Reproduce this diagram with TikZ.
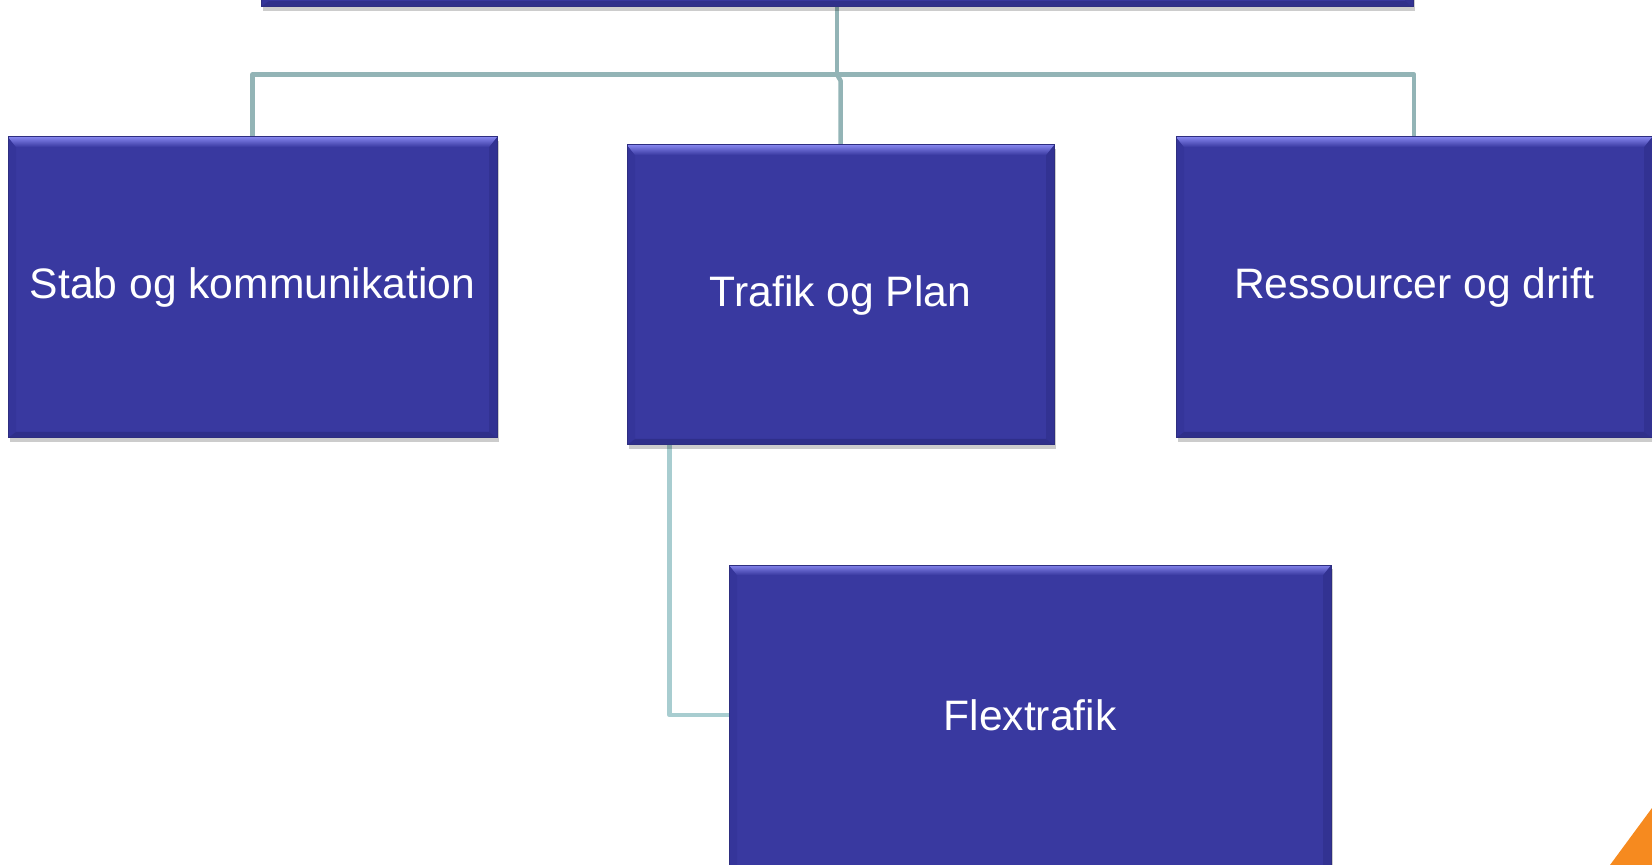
\documentclass[tikz,border=0pt]{standalone}
\usepackage{fontspec}
\setmainfont{Liberation Sans}
\usetikzlibrary{calc,backgrounds,shadows}
\definecolor{boxfill}{HTML}{3939A0}
\definecolor{boxedge}{HTML}{2E2E80}
\definecolor{bevtop}{HTML}{8484EC}
\definecolor{bevleft}{HTML}{35359A}
\definecolor{bevright}{HTML}{323292}
\definecolor{bevbot}{HTML}{2F2F8A}
\definecolor{linea}{HTML}{93B4B6}
\definecolor{lineb}{HTML}{A8CDD0}
\definecolor{accent}{HTML}{F68A1F}
\tikzset{
  boxfont/.style={text=white, font=\fontsize{21.3}{25}\selectfont},
  orgbox/.style={draw=boxedge, line width=0.5pt, fill=boxfill, boxfont,
    inner sep=0pt,
    drop shadow={shadow xshift=0.8pt, shadow yshift=-1.8pt, fill=black, opacity=0.2},
    path picture={
      \coordinate (pnw) at (path picture bounding box.north west);
      \coordinate (pne) at (path picture bounding box.north east);
      \coordinate (psw) at (path picture bounding box.south west);
      \coordinate (pse) at (path picture bounding box.south east);
      \fill[bevleft] (pnw) -- ($(pnw)+(4pt,-5pt)$) -- ($(psw)+(4pt,3pt)$) -- (psw) -- cycle;
      \fill[bevright] (pne) -- ($(pne)+(-4pt,-5pt)$) -- ($(pse)+(-4pt,3pt)$) -- (pse) -- cycle;
      \fill[bevbot] (psw) -- ($(psw)+(4pt,3pt)$) -- ($(pse)+(-4pt,3pt)$) -- (pse) -- cycle;
      \shade[top color=bevtop, bottom color=boxfill] (pnw) -- ($(pnw)+(4pt,-5pt)$) -- ($(pne)+(-4pt,-5pt)$) -- (pne) -- cycle;
    }},
  conn/.style={line width=2.25pt, line join=round, draw=linea},
  connb/.style={line width=2.25pt, line join=round, draw=lineb}
}
\begin{document}
\begin{tikzpicture}[x=0.5pt,y=-0.5pt]
\useasboundingbox (0,0) rectangle (1652,865);
\begin{scope}
\clip (0,0) rectangle (1652,865);
\node[orgbox, minimum width=576pt, minimum height=103.5pt] (top) at (837,-96.5) {};
\node[orgbox, minimum width=244.5pt, minimum height=150.5pt] (stab) at (252.5,287.5) {Stab og kommunikation};
\node[orgbox, minimum width=213.5pt, minimum height=150pt] (trafik) at (840.5,295) {Trafik og Plan};
\node[orgbox, minimum width=238pt, minimum height=150.5pt] (ress) at (1414,287.5) {Ressourcer og drift};
\node[orgbox, minimum width=301pt, minimum height=165pt,
      label={[boxfont, yshift=7.5pt]center:Flextrafik}] (flex) at (1030,730) {};
\coordinate (hub) at (837,74.5);
\begin{scope}[on background layer]
\fill[white] (0,0) rectangle (1652,865);
\draw[conn] (top.south) -- (hub);
\draw[conn] (stab.north) |- (hub) -| (ress.north);
\draw[conn] (hub) -- ([yshift=-3pt]hub -| trafik.north) -- (trafik.north);
\draw[connb] ([xshift=21.5pt]trafik.south west) |- ([yshift=7.5pt]flex.west);
\end{scope}
\fill[accent] (1652,808) -- (1652,865) -- (1610,865) -- cycle;
\end{scope}
\end{tikzpicture}
\end{document}
